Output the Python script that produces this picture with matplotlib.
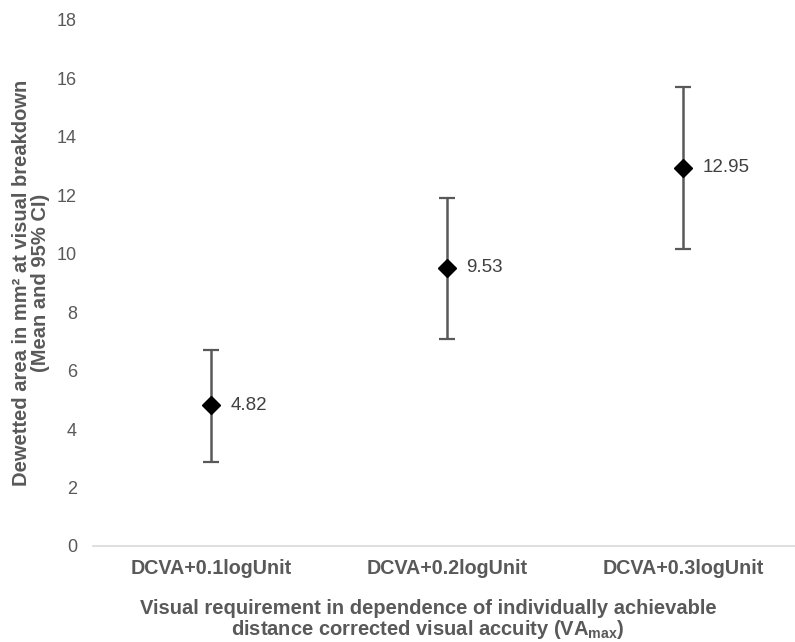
import numpy as np
import matplotlib.pyplot as plt

plt.rcParams['font.family'] = ['Liberation Sans', 'DejaVu Sans']
plt.rcParams['mathtext.fontset'] = 'custom'
plt.rcParams['mathtext.rm'] = 'Liberation Sans'
plt.rcParams['mathtext.bf'] = 'Liberation Sans:bold'

categories = ['DCVA+0.1logUnit', 'DCVA+0.2logUnit', 'DCVA+0.3logUnit']
means = [4.82, 9.53, 12.95]
ci_low = [2.88, 7.1, 10.17]
ci_high = [6.72, 11.92, 15.7]

gray = '#595959'
x = np.arange(len(categories))
lower = np.array(means) - np.array(ci_low)
upper = np.array(ci_high) - np.array(means)

fig = plt.figure(figsize=(7.95, 6.42), dpi=100)
ax = fig.add_axes([93 / 795, 96 / 642, 1 - 93 / 795, (546 - 20) / 642])

# error bars first, then the black diamonds on top
ax.errorbar(x, means, yerr=[lower, upper], fmt='none', ecolor=gray,
            elinewidth=1.8, capsize=6, capthick=1.6, zorder=2)
ax.plot(x, means, linestyle='none', marker='D', markersize=9.5,
        color='black', zorder=3)

for xi, m in zip(x, means):
    ax.annotate(f'{m:.2f}', (xi, m), xytext=(14, 0), textcoords='offset points',
                va='center', ha='left', fontsize=13.5, color='#404040')

ax.set_xlim(-0.5, 2.475)
ax.set_ylim(0, 18)
ax.set_yticks(np.arange(0, 19, 2))
ax.set_xticks(x)
ax.set_xticklabels(categories, fontweight='bold', fontsize=14.2)

for s in ['top', 'right', 'left']:
    ax.spines[s].set_visible(False)
ax.spines['bottom'].set_color('#d9d9d9')
ax.spines['bottom'].set_linewidth(1.2)
ax.tick_params(axis='both', length=0, colors=gray)
ax.tick_params(axis='y', pad=11.5, labelsize=13)
ax.tick_params(axis='x', pad=9.5)

ax.set_ylabel('Dewetted area in mm² at visual breakdown\n(Mean and 95% CI)',
              fontweight='bold', color=gray, fontsize=14.5, labelpad=5,
              linespacing=1.03)
ax.set_xlabel('Visual requirement in dependence of individually achievable\n'
              r'distance corrected visual accuity (VA$_{\mathbf{max}}$)',
              fontweight='bold', color=gray, fontsize=14.5,
              linespacing=1.03)
ax.xaxis.set_label_coords(0.477, -0.1, transform=ax.transAxes)
ax.xaxis.label.set_va('top')

fig.savefig('out.png', dpi=100)
